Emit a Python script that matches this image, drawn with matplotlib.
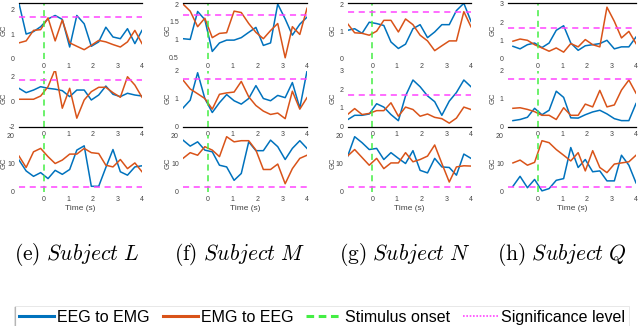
#!/usr/bin/env python3
"""Granger causality EEG<->EMG per subject (4 columns x 3 rows) with captions and a shared legend."""
import matplotlib

matplotlib.use("Agg")
import matplotlib.pyplot as plt
from matplotlib.lines import Line2D

plt.rcParams["mathtext.fontset"] = "cm"
plt.rcParams["font.family"] = ["Liberation Sans", "DejaVu Sans"]

# ---- data ----------------------------------------------------------------
time_s = [-1.0, -0.71, -0.41, -0.12, 0.18, 0.47, 0.76, 1.06, 1.35,
          1.65, 1.94, 2.24, 2.53, 2.82, 3.12, 3.41, 3.71, 4.0]
onset_s = 0.0
sig_level = 1.7

subjects = ["L", "M", "N", "Q"]
panel_tags = ["(e)", "(f)", "(g)", "(h)"]

# subject L
L_top_eeg_emg = [2.25, 1.0, 1.1, 1.3, 1.62, 1.76, 1.6, 0.47, 1.76, 1.42, 0.5, 0.68, 1.28, 0.88, 0.81, 1.22, 0.61, 1.15]
L_top_emg_eeg = [0.64, 0.72, 1.15, 1.18, 1.66, 0.72, 1.58, 0.64, 0.5, 0.36, 0.54, 0.74, 0.68, 0.57, 0.47, 0.68, 1.15, 0.61]
L_mid_eeg_emg = [1.07, 0.72, 0.93, 1.2, 1.07, 1.0, 0.88, 0.4, 0.93, 0.93, 0.13, 0.53, 1.25, 0.59, 0.4, 0.67, 0.53, 0.45]
L_mid_emg_eeg = [0.19, 0.19, 0.19, 0.45, 1.2, 2.6, -0.53, 1.07, -1.33, 0.13, 0.8, 1.15, 1.15, 0.72, 0.35, 2.0, 1.33, 0.35]
L_bot_eeg_emg = [11.2, 7.4, 5.5, 6.8, 4.7, 7.6, 6.2, 7.9, 14.7, 16.2, 2.0, 2.0, 8.6, 14.9, 7.1, 5.9, 8.8, 9.2]
L_bot_emg_eeg = [12.6, 8.6, 14.1, 15.3, 12.4, 10.0, 11.2, 13.3, 13.3, 15.3, 13.8, 13.5, 9.4, 8.8, 11.4, 8.2, 10.2, 7.1]

# subject M
M_top_eeg_emg = [1.02, 1.0, 1.79, 1.56, 0.66, 0.9, 0.98, 0.98, 1.05, 1.2, 1.34, 0.83, 0.9, 2.0, 1.58, 1.12, 1.43, 1.63]
M_top_emg_eeg = [2.0, 1.8, 1.36, 1.6, 1.05, 1.17, 1.19, 1.8, 1.76, 1.45, 1.2, 1.02, 1.25, 1.45, 0.48, 1.36, 1.14, 1.88]
M_mid_eeg_emg = [0.66, 0.94, 1.92, 1.0, 0.5, 0.85, 1.14, 0.92, 0.8, 1.0, 1.46, 1.0, 0.92, 1.11, 1.03, 1.57, 0.66, 1.98]
M_mid_emg_eeg = [1.66, 1.34, 1.17, 1.0, 0.62, 1.15, 1.2, 1.23, 1.61, 1.06, 0.75, 0.55, 0.43, 0.48, 0.28, 1.26, 0.62, 1.03]
M_bot_eeg_emg = [18.2, 16.1, 17.6, 14.7, 14.1, 9.4, 8.8, 4.1, 6.5, 17.6, 14.5, 14.5, 18.2, 15.9, 11.4, 15.3, 18.0, 15.3]
M_bot_emg_eeg = [11.8, 13.8, 12.9, 15.9, 14.7, 12.4, 19.4, 17.6, 18.0, 18.0, 14.7, 7.9, 7.9, 9.8, 2.9, 8.2, 11.8, 12.9]

# subject N
N_top_eeg_emg = [1.04, 1.1, 0.93, 1.34, 1.29, 1.22, 0.61, 0.37, 0.53, 1.1, 1.25, 0.77, 0.98, 1.25, 1.25, 1.77, 2.04, 1.37]
N_top_emg_eeg = [1.29, 0.95, 0.93, 0.86, 1.01, 1.41, 1.41, 0.98, 1.46, 1.25, 0.86, 0.65, 0.29, 0.47, 0.65, 0.65, 1.73, 1.17]
N_mid_eeg_emg = [0.36, 0.6, 0.6, 0.67, 1.22, 1.04, 0.64, 0.31, 1.64, 2.49, 2.13, 1.64, 1.33, 0.6, 1.36, 1.82, 2.49, 2.13]
N_mid_emg_eeg = [0.64, 0.96, 0.64, 0.7, 0.85, 0.85, 1.27, 0.55, 1.04, 0.91, 0.55, 0.67, 0.49, 0.42, 0.18, 0.45, 1.04, 0.91]
N_bot_eeg_emg = [12.4, 19.4, 17.3, 14.9, 15.3, 11.4, 13.8, 11.8, 10.0, 14.5, 7.6, 6.7, 11.8, 8.8, 8.6, 5.9, 13.3, 11.8]
N_bot_emg_eeg = [12.6, 14.9, 12.1, 9.4, 11.8, 8.2, 10.2, 10.2, 13.8, 10.6, 11.4, 12.6, 16.5, 10.0, 3.5, 8.8, 9.2, 9.1]

# subject Q
Q_top_eeg_emg = [0.67, 0.53, 0.76, 0.85, 0.6, 0.85, 1.55, 1.8, 0.85, 0.45, 0.7, 0.76, 0.82, 1.0, 0.53, 0.64, 0.64, 1.18]
Q_top_emg_eeg = [0.95, 1.07, 1.0, 0.76, 0.58, 0.4, 0.58, 0.35, 0.82, 0.64, 1.04, 0.76, 0.64, 2.82, 2.04, 1.13, 1.49, 0.82]
Q_mid_eeg_emg = [0.21, 0.25, 0.33, 0.65, 0.42, 0.58, 1.26, 1.04, 0.31, 0.3, 0.42, 0.52, 0.58, 0.45, 0.28, 0.21, 0.21, 0.82]
Q_mid_emg_eeg = [0.65, 0.67, 0.61, 0.53, 0.4, 0.4, 0.25, 0.67, 0.4, 0.4, 0.8, 0.7, 1.29, 0.7, 0.77, 1.3, 1.66, 1.19]
Q_bot_eeg_emg = [2.0, 5.5, 1.5, 4.4, 0.4, 1.2, 4.1, 4.7, 15.6, 8.6, 11.4, 7.1, 7.4, 3.9, 3.9, 12.9, 9.4, 3.2]
Q_bot_emg_eeg = [10.2, 11.2, 9.4, 10.4, 18.0, 17.3, 14.9, 12.9, 10.9, 13.8, 7.4, 14.5, 8.6, 6.8, 9.8, 10.2, 10.6, 12.9]

series = {
    "L": [(L_top_eeg_emg, L_top_emg_eeg), (L_mid_eeg_emg, L_mid_emg_eeg), (L_bot_eeg_emg, L_bot_emg_eeg)],
    "M": [(M_top_eeg_emg, M_top_emg_eeg), (M_mid_eeg_emg, M_mid_emg_eeg), (M_bot_eeg_emg, M_bot_emg_eeg)],
    "N": [(N_top_eeg_emg, N_top_emg_eeg), (N_mid_eeg_emg, N_mid_emg_eeg), (N_bot_eeg_emg, N_bot_emg_eeg)],
    "Q": [(Q_top_eeg_emg, Q_top_emg_eeg), (Q_mid_eeg_emg, Q_mid_emg_eeg), (Q_bot_eeg_emg, Q_bot_emg_eeg)],
}

# ---- layout (pixels in a 640x326 canvas) ---------------------------------
W, H = 640, 326
col_x = [(19, 142), (183, 307), (347.5, 471), (508, 636)]
col_xlim = [(-1, 4), (-1, 4), (-1, 4), (-1.2, 4)]
row_y = [(3, 58.5), (70.5, 126.5), (135, 192)]
ylims = {
    "L": [(0, 2.27), (-2, 2.5), (0, 20)],
    "M": [(0.46, 2.03), (0, 2.0), (0, 20)],
    "N": [(0, 2.05), (0, 3.0), (0, 20)],
    "Q": [(0, 3.05), (0, 2.0), (0, 20)],
}
yticks = {
    "L": [[0, 1, 2], [-2, 0, 2], [0, 10, 20]],
    "M": [[0.5, 1, 1.5, 2], [0, 1, 2], [0, 10, 20]],
    "N": [[0, 1, 2], [0, 1, 2, 3], [0, 10, 20]],
    "Q": [[0, 1, 2, 3], [0, 1, 2], [0, 10, 20]],
}
caption_x = [77, 240, 405, 562]

BLUE = "#0072BD"
ORANGE = "#D95319"
GREEN = "#44EE44"
MAGENTA = "#FF44FF"
TICK_COLOR = "#444444"


def px_rect(x0, y0, x1, y1):
    return [x0 / W, 1 - y1 / H, (x1 - x0) / W, (y1 - y0) / H]


fig = plt.figure(figsize=(W / 100, H / 100), dpi=100)

for ci, subj in enumerate(subjects):
    x0, x1 = col_x[ci]
    for ri in range(3):
        y0, y1 = row_y[ri]
        ax = fig.add_axes(px_rect(x0, y0, x1, y1))
        ax.patch.set_alpha(0)
        blue, orange = series[subj][ri]
        ax.plot(time_s, blue, color=BLUE, lw=1.1)
        ax.plot(time_s, orange, color=ORANGE, lw=1.1)
        ax.axvline(onset_s, color=GREEN, lw=1.1, ls=(0, (4, 3)))
        ax.axhline(sig_level, color=MAGENTA, lw=1.1, ls=(0, (4, 3)))
        ax.set_xlim(*col_xlim[ci])
        ax.set_ylim(*ylims[subj][ri])
        ax.set_xticks([0, 1, 2, 3, 4])
        ax.set_yticks(yticks[subj][ri])
        ax.set_yticklabels([f"{t:g}" for t in yticks[subj][ri]])
        ax.tick_params(length=0, labelsize=5, colors=TICK_COLOR, pad=3)
        for side in ("left", "right", "top", "bottom"):
            ax.spines[side].set_visible(False)
        if ri == 0:
            ax.spines["top"].set_visible(True)
            ax.spines["top"].set_linewidth(0.9)
        elif ri == 1:
            ax.spines["bottom"].set_visible(True)
            ax.spines["bottom"].set_linewidth(0.9)
        ax.set_ylabel("GC", fontsize=5.5, color=TICK_COLOR)
        ax.yaxis.set_label_coords(-11 / (x1 - x0), 0.5)
        if ri == 2:
            ax.set_xlabel("Time (s)", fontsize=6, color=TICK_COLOR)
            ax.xaxis.set_label_coords(0.5, -16 / (y1 - y0))
            ax.xaxis.label.set_va("center")

    fig.text(caption_x[ci] / W, 1 - 255 / H,
             r"$\mathrm{" + panel_tags[ci] + r"}\ Subject\ " + subj + "$",
             ha="center", va="center", fontsize=15.5)

handles = [
    Line2D([], [], color=BLUE, lw=2.2),
    Line2D([], [], color=ORANGE, lw=2.2),
    Line2D([], [], color=GREEN, lw=2.2, ls=(0, (2.5, 1.5))),
    Line2D([], [], color=MAGENTA, lw=1.2, ls=(0, (1, 1))),
]
labels = ["EEG to EMG", "EMG to EEG", "Stimulus onset", "Significance level"]
leg = fig.legend(handles, labels, loc="upper left", bbox_to_anchor=(15 / W, 1 - 306 / H),
                 ncol=4, fontsize=11.5, frameon=True, handlelength=2.2,
                 handletextpad=0.2, columnspacing=0.8, borderaxespad=0,
                 borderpad=0.25, fancybox=False)
leg.get_frame().set_edgecolor("#dddddd")
leg.get_frame().set_linewidth(0.6)
fig.add_artist(Line2D([15 / W, 15 / W], [1 - 326 / H, 1 - 307 / H], color="black", lw=0.9))

fig.savefig("out.png", dpi=100)
